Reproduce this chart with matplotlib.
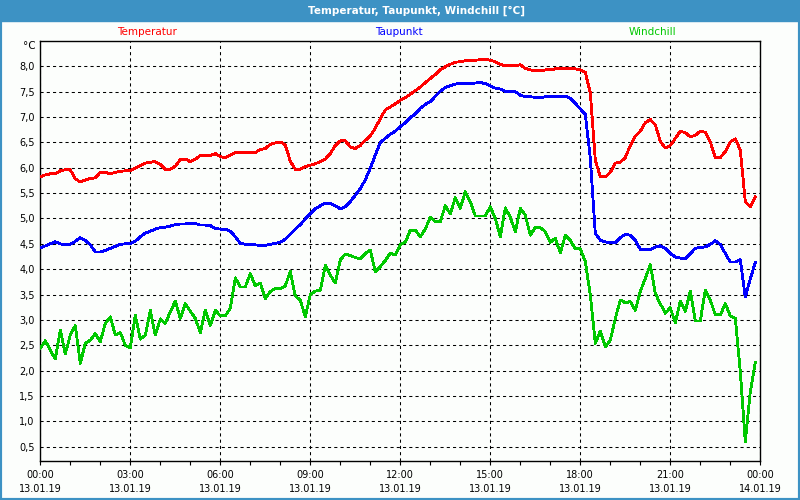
import numpy as np
import pandas as pd
import matplotlib
matplotlib.use("Agg")
import matplotlib.pyplot as plt
import matplotlib.dates as mdates
from matplotlib.patches import Rectangle
from matplotlib.ticker import FuncFormatter

# ── data: 10-minute readings, 13.01.19 00:00 – 23:50 ─────────────
times = pd.date_range("2019-01-13 00:00", periods=144, freq="10min")

temperatur = [
    5.82, 5.86, 5.88, 5.88, 5.94, 5.96, 5.96, 5.78, 5.72, 5.76, 5.79, 5.80,
    5.91, 5.91, 5.88, 5.91, 5.93, 5.94, 5.94, 5.99, 6.04, 6.09, 6.11, 6.12,
    6.07, 5.97, 5.97, 6.03, 6.16, 6.17, 6.12, 6.17, 6.24, 6.24, 6.24, 6.28,
    6.22, 6.20,
    6.25, 6.30, 6.30, 6.30, 6.30, 6.30, 6.36, 6.38, 6.46, 6.49, 6.51, 6.45,
    6.13, 5.97, 5.97, 6.02, 6.05, 6.08, 6.12, 6.17, 6.28, 6.44, 6.53, 6.53,
    6.41, 6.38, 6.44, 6.54, 6.63, 6.78, 6.97, 7.14, 7.20, 7.26, 7.33, 7.38,
    7.45, 7.52,
    7.59, 7.68, 7.76, 7.84, 7.93, 7.99, 8.04, 8.08, 8.09, 8.11, 8.11, 8.12,
    8.13, 8.14, 8.12, 8.09, 8.04, 8.01, 8.01, 8.01, 8.03, 7.96, 7.93, 7.91,
    7.91, 7.93, 7.93, 7.95, 7.95, 7.95, 7.95, 7.95, 7.93, 7.88, 7.48, 6.15,
    5.82,
    5.82, 5.91, 6.09, 6.11, 6.20, 6.44, 6.62, 6.72, 6.89, 6.95, 6.85, 6.52,
    6.39, 6.44, 6.58, 6.72, 6.69, 6.61, 6.64, 6.72, 6.70, 6.51, 6.20, 6.20,
    6.32, 6.51, 6.57, 6.35, 5.33, 5.23, 5.42,
]

taupunkt = [
    4.42, 4.46, 4.50, 4.54, 4.50, 4.48, 4.49, 4.55, 4.62, 4.57, 4.48, 4.34,
    4.34, 4.37, 4.41, 4.45, 4.49, 4.50, 4.51, 4.55, 4.64, 4.71, 4.75, 4.79,
    4.82, 4.83, 4.85, 4.88, 4.89, 4.89, 4.91, 4.90, 4.87, 4.87, 4.86, 4.80,
    4.79, 4.79,
    4.75, 4.64, 4.51, 4.49, 4.49, 4.48, 4.47, 4.47, 4.49, 4.51, 4.53, 4.59,
    4.69, 4.79, 4.88, 4.99, 5.09, 5.19, 5.25, 5.30, 5.30, 5.25, 5.19, 5.23,
    5.33, 5.46, 5.59, 5.76, 5.99, 6.25, 6.50, 6.58, 6.66, 6.72, 6.81, 6.89,
    6.99, 7.06,
    7.17, 7.25, 7.30, 7.41, 7.51, 7.58, 7.62, 7.65, 7.66, 7.66, 7.66, 7.67,
    7.68, 7.66, 7.61, 7.57, 7.55, 7.51, 7.50, 7.50, 7.43, 7.40, 7.40, 7.39,
    7.38, 7.40, 7.40, 7.41, 7.41, 7.41, 7.37, 7.27, 7.16, 7.05, 6.19, 4.71,
    4.57,
    4.54, 4.52, 4.52, 4.62, 4.69, 4.67, 4.57, 4.39, 4.39, 4.39, 4.44, 4.46,
    4.41, 4.31, 4.24, 4.22, 4.21, 4.31, 4.41, 4.43, 4.44, 4.49, 4.56, 4.49,
    4.31, 4.14, 4.14, 4.19, 3.45, 3.81, 4.13,
]

windchill = [
    2.44, 2.59, 2.40, 2.23, 2.80, 2.33, 2.70, 2.89, 2.14, 2.54, 2.60, 2.73,
    2.57, 2.93, 3.06, 2.70, 2.75, 2.50, 2.45, 3.09, 2.62, 2.70, 3.19, 2.70,
    3.02, 2.93, 3.16, 3.37, 3.03, 3.32, 3.17, 3.03, 2.75, 3.19, 2.89, 3.19,
    3.08, 3.08,
    3.23, 3.83, 3.65, 3.65, 3.91, 3.67, 3.73, 3.42, 3.56, 3.62, 3.62, 3.67,
    3.96, 3.47, 3.39, 3.06, 3.50, 3.57, 3.58, 4.08, 3.88, 3.73, 4.18, 4.30,
    4.27, 4.23, 4.20, 4.31, 4.38, 3.95, 4.05, 4.17, 4.32, 4.28, 4.48, 4.53,
    4.77, 4.77,
    4.64, 4.79, 5.03, 4.94, 4.94, 5.25, 5.09, 5.41, 5.20, 5.53, 5.33, 5.05,
    5.05, 5.05, 5.23, 5.00, 4.64, 5.21, 5.02, 4.74, 5.20, 5.07, 4.67, 4.82,
    4.82, 4.74, 4.53, 4.61, 4.32, 4.67, 4.57, 4.40, 4.40, 4.15, 3.49, 2.54,
    2.78,
    2.47, 2.60, 3.03, 3.39, 3.34, 3.36, 3.19, 3.56, 3.82, 4.09, 3.52, 3.32,
    3.13, 3.24, 2.94, 3.37, 3.17, 3.57, 2.98, 2.98, 3.59, 3.39, 3.10, 3.10,
    3.32, 3.08, 3.03, 1.98, 0.60, 1.58, 2.16,
]

y_ticks = [0.5, 1.0, 1.5, 2.0, 2.5, 3.0, 3.5, 4.0, 4.5, 5.0, 5.5, 6.0, 6.5, 7.0, 7.5, 8.0]
title = "Temperatur, Taupunkt, Windchill [°C]"

c_red, c_blue, c_green = "#ff0000", "#0000ff", "#00c800"
c_bar = "#3d92c4"

# ── figure ───────────────────────────────────────────────────────
W, H = 800, 500
fig = plt.figure(figsize=(8, 5), dpi=100, facecolor="#fcfefc")
ax = fig.add_axes([40.3 / W, 39.3 / H, 720 / W, 420 / H])
ax.set_facecolor("#fcfefc")

# title bar + window border
fig.patches.append(Rectangle((0, 1 - 21 / H), 1, 21 / H, transform=fig.transFigure,
                             color=c_bar, zorder=0))
fig.patches.append(Rectangle((0, 0), 1, 1, transform=fig.transFigure, fill=False,
                             edgecolor=c_bar, linewidth=3, zorder=5))
fig.text(417 / W, 1 - 10.5 / H, title, color="white", weight="bold",
         fontsize=7.5, ha="center", va="center")

# series names above the plot
for name, col, xc in [("Temperatur", c_red, 147), ("Taupunkt", c_blue, 399),
                      ("Windchill", c_green, 652)]:
    fig.text(xc / W, 1 - 32 / H, name, color=col, fontsize=7.5, ha="center", va="center")
fig.text(36 / W, 1 - 46 / H, "°C", fontsize=7.5, ha="right", va="center")

# lines
ax.plot(times, temperatur, color=c_red, lw=1.3, antialiased=False, zorder=3)
ax.plot(times, taupunkt, color=c_blue, lw=1.3, antialiased=False, zorder=3)
ax.plot(times, windchill, color=c_green, lw=1.3, antialiased=False, zorder=3)

ax.set_xlim(pd.Timestamp("2019-01-13 00:00"), pd.Timestamp("2019-01-14 00:00"))
ax.set_ylim(0.224, 8.505)

ax.xaxis.set_major_locator(mdates.HourLocator(byhour=range(0, 24, 3)))
ax.xaxis.set_minor_locator(mdates.HourLocator())
ax.xaxis.set_major_formatter(mdates.DateFormatter("%H:%M\n%d.%m.%y"))
ax.set_yticks(y_ticks)
ax.yaxis.set_major_formatter(FuncFormatter(lambda v, p: f"{v:.1f}".replace(".", ",")))

ax.grid(True, color="black", linestyle=(0, (3, 3)), linewidth=0.75)
ax.tick_params(axis="x", which="both", length=3, width=0.8, labelsize=7, pad=4)
ax.tick_params(axis="y", length=0, labelsize=7, pad=4)
for lab in ax.get_xticklabels():
    lab.set_linespacing(1.5)
for sp in ax.spines.values():
    sp.set_linewidth(1.0)

fig.savefig("out.png", dpi=100, facecolor=fig.get_facecolor())
